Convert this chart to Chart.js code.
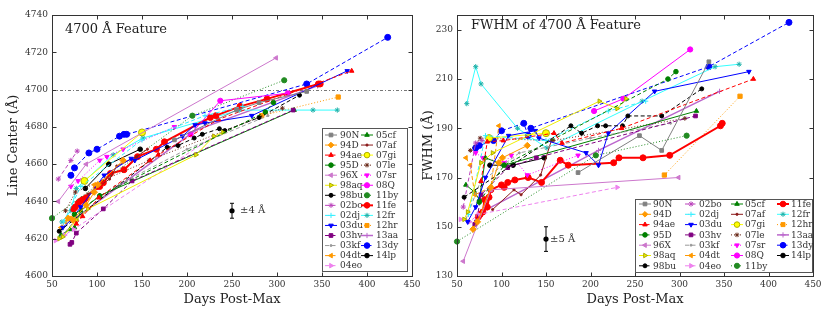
<!DOCTYPE html>
<html><head><meta charset="utf-8">
<script src="https://cdn.jsdelivr.net/npm/chart.js@4/dist/chart.umd.min.js"></script>
<style>
html,body{margin:0;padding:0;background:#fff;}
#wrap{position:relative;width:830px;height:311px;overflow:hidden;background:#fff;}
#c1{position:absolute;left:0;top:0;}
#c2{position:absolute;left:415px;top:0;}
</style></head><body>
<div id="wrap"><canvas id="c1" width="430" height="311"></canvas><canvas id="c2" width="415" height="311"></canvas></div>
<script>
// ---------- DATA (days post-max, line center in Å, FWHM in Å) ----------
const names = ['90N','94D','94ae','95D','96X','98aq','98bu','02bo','02dj','03du','03hv','03kf','04dt','04eo','05cf','07af','07gi','07le','07sr','08Q','11by','11fe','12fr','12hr','13aa','13dy','14lp'];

const days_90N = [186,255,280,333];
const center_90N = [4673,4689,4693,4699];
const fwhm_90N = [172,187,181,217];

const days_94D = [68,73,88,97,101,129];
const center_94D = [4631,4630,4638,4645,4649,4662];
const fwhm_94D = [149,152,166,176,178,183];

const days_94ae = [77,84,102,159,168,235,383];
const center_94ae = [4628,4632,4642,4662,4665,4684,4710];
const fwhm_94ae = [168.5,184.5,185,188,184,190,210];

const days_95D = [75,103,287,296];
const center_95D = [4633,4643,4688,4693];
const fwhm_95D = [160,175,210,213];

const days_96X = [57,88,299];
const center_96X = [4640,4660,4717];
const fwhm_96X = [136,165,170];

const days_98aq = [58,62,77,90,210,230,240];
const center_98aq = [4620,4621,4630,4636,4665,4675,4677];
const fwhm_98aq = [153,156,176,180,201,198,202];

const days_98bu = [58,178,190,208,217,236,242,280,325];
const center_98bu = [4624,4669,4670,4674,4676,4679,4678,4685,4697];
const fwhm_98bu = [162,191,188,191,191,191,195,195,206];

const days_02bo = [57,71,78];
const center_02bo = [4652,4662,4667];
const fwhm_02bo = [158,184,185];

const days_02dj = [63,82,150,220,262];
const center_02dj = [4629,4648,4673,4686,4691];
const fwhm_02dj = [155,187,185,197,201];

const days_03du = [62,71,82,108,138,142,195,209,220,272,378];
const center_03du = [4626,4630,4637,4654,4663,4662,4675,4681,4682,4686,4710];
const fwhm_03du = [152,158,170,187,189,186,180,175,188,205,213];

const days_03hv = [70,72,77,107,139,318];
const center_03hv = [4617,4618,4623,4636,4651,4689];
const fwhm_03hv = [151,152,163,174,178,195];

const days_03kf = [60,76,120,200,290];
const center_03kf = [4621,4630,4648,4668,4686];
const fwhm_03kf = [153,168,180,186,192];

const days_04dt = [60,65,70,88,97];
const center_04dt = [4626,4629,4631,4638,4649];
const fwhm_04dt = [178,175,163,166,191];

const days_04eo = [54,64,74,230];
const center_04eo = [4619,4622,4625,4675];
const fwhm_04eo = [153,152,155,166];

const days_05cf = [60,70,75,82,103,319];
const center_05cf = [4622,4625,4626,4635,4643,4689];
const fwhm_05cf = [167,164,161,178,175,197];

const days_07af = [90,114,122,144,156];
const center_07af = [4644,4652,4659,4664,4668];
const fwhm_07af = [157,165,163,171,185];

const days_07gi = [86,150];
const center_07gi = [4651,4677];
const fwhm_07gi = [186,188];

const days_07le = [65,76,158,306];
const center_07le = [4635,4645,4662,4690];
const fwhm_07le = [181,186,185,194];

const days_07sr = [71,79,103,111,129,186];
const center_07sr = [4648,4651,4662,4664,4668,4680];
const fwhm_07sr = [180,178,176,179,171,179];

const days_08Q = [204,237,312];
const center_08Q = [4676,4694,4698];
const fwhm_08Q = [197,202,222];

const days_11by = [50,206,308];
const center_11by = [4631,4686,4705];
const fwhm_11by = [144,179,187];

const days_11fe = [74,76,79,81,84,86,88,100,103,107,115,130,145,166,175,226,232,259,289,346,348];
const center_11fe = [4636,4637,4639,4640,4641,4641,4642,4648,4648,4650,4655,4657,4664,4668,4672,4685,4686,4691,4695,4703,4703];
const fwhm_11fe = [154,155,156,161,158,162,165,167,166,168,169,170,168,177,175,176,178,178,179,191,192];

const days_12fr = [61,71,77,118,151,258,340,367];
const center_12fr = [4629,4635,4647,4665,4674,4689,4689,4689];
const fwhm_12fr = [200,215,208,190,182,201,215,216];

const days_12hr = [283,368];
const center_12hr = [4686,4696];
const fwhm_12hr = [171,203];

const days_13aa = [73,209,345];
const center_13aa = [4630,4678,4702];
const fwhm_13aa = [155,181,205];

const days_13dy = [71,75,91,100,125,130,133,333,423];
const center_13dy = [4654,4658,4666,4668,4675,4676,4676,4703,4728];
const fwhm_13dy = [182,183,185,189,192,187,190,215,233];

const days_14lp = [87,113,148];
const center_14lp = [4647,4660,4668];
const fwhm_14lp = [175,175,178];

const dayTicks = [50,100,150,200,250,300,350,400,450];
const centerTicks = [4600,4620,4640,4660,4680,4700,4720,4740];
const fwhmTicks = [130,150,170,190,210,230];
const refCenter = 4700;
const errCenter = [250, 4635, 4];   // day, value, ±
const errFwhm = [150, 145, 5];

const table = {
 '90N':[days_90N,center_90N,fwhm_90N],'94D':[days_94D,center_94D,fwhm_94D],'94ae':[days_94ae,center_94ae,fwhm_94ae],
 '95D':[days_95D,center_95D,fwhm_95D],'96X':[days_96X,center_96X,fwhm_96X],'98aq':[days_98aq,center_98aq,fwhm_98aq],
 '98bu':[days_98bu,center_98bu,fwhm_98bu],'02bo':[days_02bo,center_02bo,fwhm_02bo],'02dj':[days_02dj,center_02dj,fwhm_02dj],
 '03du':[days_03du,center_03du,fwhm_03du],'03hv':[days_03hv,center_03hv,fwhm_03hv],'03kf':[days_03kf,center_03kf,fwhm_03kf],
 '04dt':[days_04dt,center_04dt,fwhm_04dt],'04eo':[days_04eo,center_04eo,fwhm_04eo],'05cf':[days_05cf,center_05cf,fwhm_05cf],
 '07af':[days_07af,center_07af,fwhm_07af],'07gi':[days_07gi,center_07gi,fwhm_07gi],'07le':[days_07le,center_07le,fwhm_07le],
 '07sr':[days_07sr,center_07sr,fwhm_07sr],'08Q':[days_08Q,center_08Q,fwhm_08Q],'11by':[days_11by,center_11by,fwhm_11by],
 '11fe':[days_11fe,center_11fe,fwhm_11fe],'12fr':[days_12fr,center_12fr,fwhm_12fr],'12hr':[days_12hr,center_12hr,fwhm_12hr],
 '13aa':[days_13aa,center_13aa,fwhm_13aa],'13dy':[days_13dy,center_13dy,fwhm_13dy],'14lp':[days_14lp,center_14lp,fwhm_14lp]
};

// ---------- STYLES ----------
const D=[4,2.5], P=[1,2];
const styles = {
 '90N': {c:'#808080', d:[], ps:'rect', r:2.6},
 '94D': {c:'#ff9900', d:[], ps:'rectRot', r:3.2},
 '94ae':{c:'#ff0000', d:D, ps:'triangle', r:2.6},
 '95D': {c:'#008000', d:D, ps:'circle', r:2.3},
 '96X': {c:'#cc77cc', d:[], ps:'triangle', rot:270, r:2.6},
 '98aq':{c:'#eeee00', d:[], ps:'triangle', rot:90, r:2.6, bc:'#aaaa00'},
 '98bu':{c:'#000000', d:D, ps:'circle', r:2},
 '02bo':{c:'#bb44bb', d:D, ps:'star', r:2.6},
 '02dj':{c:'#33eeff', d:D, ps:'cross', r:2.6},
 '03du':{c:'#0000ff', d:[], ps:'triangle', rot:180, r:2.6},
 '03hv':{c:'#800080', d:D, ps:'rect', r:2.6},
 '03kf':{c:'#999999', d:D, ps:'circle', r:1},
 '04dt':{c:'#ff9900', d:D, ps:'triangle', rot:270, r:2.6},
 '04eo':{c:'#ee82ee', d:D, ps:'triangle', rot:90, r:2.6},
 '05cf':{c:'#008000', d:[], ps:'triangle', r:2.6},
 '07af':{c:'#8b1a1a', d:[], ps:'circle', r:1.1},
 '07gi':{c:'#ffff00', d:[], ps:'circle', r:3.5, bc:'#b0b000'},
 '07le':{c:'#6b2b1b', d:P, ps:'star', r:2.3},
 '07sr':{c:'#ff00ff', d:P, ps:'triangle', rot:180, r:2.6},
 '08Q': {c:'#ff00ff', d:[], ps:'circle', r:2.6},
 '11by':{c:'#228b22', d:P, ps:'circle', r:2.6},
 '11fe':{c:'#ff0000', d:[], ps:'circle', r:3, w:2},
 '12fr':{c:'#20b2aa', d:[], ps:'star', r:2.6, lc:'#33ffff'},
 '12hr':{c:'#ff9900', d:P, ps:'rect', r:3},
 '13aa':{c:'#bb66cc', d:[], ps:'cross', r:2.6, w:1.5},
 '13dy':{c:'#0000ff', d:D, ps:'circle', r:3},
 '14lp':{c:'#000000', d:[], ps:'circle', r:2.3}
};

Chart.defaults.font.family = "'DejaVu Serif', serif";
Chart.defaults.color = '#333';

function buildSets(idx){
  return names.map(n=>{
    const s = styles[n], t = table[n];
    return {
      label:n,
      data:t[0].map((d,i)=>({x:d,y:t[idx][i]})),
      showLine:true, borderColor:s.lc||s.c, backgroundColor:s.c,
      borderDash:s.d, borderWidth:s.w||1,
      pointStyle:s.ps, pointRadius:s.r, pointRotation:s.rot||0,
      pointBackgroundColor:s.c, pointBorderColor:s.bc||s.c, pointBorderWidth:1,
      pointHoverRadius:s.r, tension:0, clip:false
    };
  });
}

const deco = {
  id:'deco',
  beforeDatasetsDraw(chart,args,o){
    const {ctx, chartArea:a, scales:{x,y}} = chart;
    if (o.hline!=null){
      const py = Math.round(y.getPixelForValue(o.hline))+0.5;
      ctx.save(); ctx.strokeStyle='#777'; ctx.lineWidth=1; ctx.setLineDash([3,2,1,2]);
      ctx.beginPath(); ctx.moveTo(a.left,py); ctx.lineTo(a.right,py); ctx.stroke(); ctx.restore();
    }
  },
  afterDraw(chart,args,o){
    const {ctx, chartArea:a, scales:{x,y}} = chart;
    ctx.save();
    if (o.err){
      const e=o.err, px=x.getPixelForValue(e[0]), py=y.getPixelForValue(e[1]);
      const p1=y.getPixelForValue(e[1]+e[2]), p2=y.getPixelForValue(e[1]-e[2]);
      ctx.strokeStyle='#000'; ctx.lineWidth=1; ctx.setLineDash([]);
      ctx.beginPath(); ctx.moveTo(px,p1); ctx.lineTo(px,p2);
      ctx.moveTo(px-2,p1); ctx.lineTo(px+2,p1); ctx.moveTo(px-2,p2); ctx.lineTo(px+2,p2); ctx.stroke();
      ctx.fillStyle='#000'; ctx.beginPath(); ctx.arc(px,py,2.6,0,Math.PI*2); ctx.fill();
      ctx.font="10px 'DejaVu Serif'"; ctx.textBaseline='middle'; ctx.textAlign='left';
      ctx.fillStyle='#333'; ctx.fillText('±'+e[2]+' Å', px+o.errTextDx, py);
    }
    ctx.strokeStyle='#333'; ctx.lineWidth=1; ctx.setLineDash([]);
    const L=Math.round(a.left)+0.5, R=Math.round(a.right)+0.5, T=Math.round(a.top)+0.5, B=Math.round(a.bottom)+0.5;
    ctx.strokeRect(L,T,R-L,B-T);
    ctx.beginPath();
    x.ticks.forEach(t=>{const p=Math.round(x.getPixelForValue(t.value))+0.5; ctx.moveTo(p,B); ctx.lineTo(p,B-4); ctx.moveTo(p,T); ctx.lineTo(p,T+4);});
    y.ticks.forEach(t=>{const p=Math.round(y.getPixelForValue(t.value))+0.5; ctx.moveTo(L,p); ctx.lineTo(L+4,p); ctx.moveTo(R,p); ctx.lineTo(R-4,p);});
    ctx.stroke();
    ctx.fillStyle='#222'; ctx.font="13px 'DejaVu Serif'"; ctx.textAlign='left'; ctx.textBaseline='middle';
    ctx.fillText(o.title, o.titleX, o.titleY);
    const lg=o.legend;
    ctx.fillStyle='#fff'; ctx.fillRect(lg.x,lg.y,lg.w,lg.h);
    ctx.strokeStyle='#555'; ctx.strokeRect(lg.x+0.5,lg.y+0.5,lg.w,lg.h);
    chart.data.datasets.forEach((ds,i)=>{
      const col=Math.floor(i/lg.rows), row=i%lg.rows;
      const x0=lg.x+lg.col0+col*lg.colW, yy=lg.y+lg.row0+row*lg.rowH;
      ctx.save();
      ctx.strokeStyle=ds.borderColor; ctx.lineWidth=ds.borderWidth; ctx.setLineDash(ds.borderDash||[]);
      ctx.beginPath(); ctx.moveTo(x0,yy); ctx.lineTo(x0+lg.len,yy); ctx.stroke();
      ctx.setLineDash([]);
      ctx.fillStyle=ds.pointBackgroundColor; ctx.strokeStyle=ds.pointBorderColor; ctx.lineWidth=1;
      Chart.helpers.drawPoint(ctx,{pointStyle:ds.pointStyle,rotation:ds.pointRotation,radius:Math.min(ds.pointRadius,2.8),borderWidth:1},x0+lg.len/2,yy);
      ctx.restore();
      ctx.fillStyle='#333'; ctx.font="9px 'DejaVu Serif'"; ctx.textAlign='left'; ctx.textBaseline='middle';
      ctx.fillText(ds.label, x0+lg.txt, yy+0.5);
    });
    ctx.restore();
  }
};

function makeChart(id, idx, yTicks, ymin, ymax, ytitle, yw, padR, plug){
  return new Chart(document.getElementById(id), {
    type:'scatter',
    data:{datasets:buildSets(idx)},
    plugins:[deco],
    options:{
      responsive:false, animation:false, events:[],
      layout:{padding:{left:0,right:padR,top:15,bottom:0}},
      plugins:{legend:{display:false}, tooltip:{enabled:false}, deco:plug},
      scales:{
        x:{type:'linear', min:50, max:450,
           afterBuildTicks(s){s.ticks=dayTicks.map(v=>({value:v}));},
           afterFit(s){s.height=35;},
           grid:{display:false, drawTicks:false}, border:{display:false},
           ticks:{font:{size:9}, color:'#333', padding:3, callback:v=>String(v)},
           title:{display:true, text:'Days Post-Max', font:{size:13}, color:'#222', padding:{top:0,bottom:4}}},
        y:{type:'linear', min:ymin, max:ymax,
           afterBuildTicks(s){s.ticks=yTicks.map(v=>({value:v}));},
           afterFit(s){s.width=yw;},
           grid:{display:false, drawTicks:false}, border:{display:false},
           ticks:{font:{size:9}, color:'#333', padding:4, callback:v=>String(v)},
           title:{display:true, text:ytitle, font:{size:13}, color:'#222', padding:{top:6,bottom:0}}}
      }
    }
  });
}

makeChart('c1', 1, centerTicks, 4600, 4740, 'Line Center (Å)', 52, 18, {
  hline:refCenter, err:errCenter, errTextDx:8,
  title:'4700 Å Feature', titleX:65, titleY:30,
  legend:{x:322,y:128,w:85,h:143,rows:14,col0:3,colW:36,row0:7,rowH:10.05,len:12,txt:15}
});
makeChart('c2', 2, fwhmTicks, 130, 236, 'FWHM (Å)', 42, 17, {
  hline:null, err:errFwhm, errTextDx:4,
  title:'FWHM of 4700 Å Feature', titleX:56, titleY:26,
  legend:{x:220,y:199,w:177,h:73,rows:7,col0:4,colW:46,row0:5,rowH:10.3,len:12,txt:14}
});
</script>
</body></html>
